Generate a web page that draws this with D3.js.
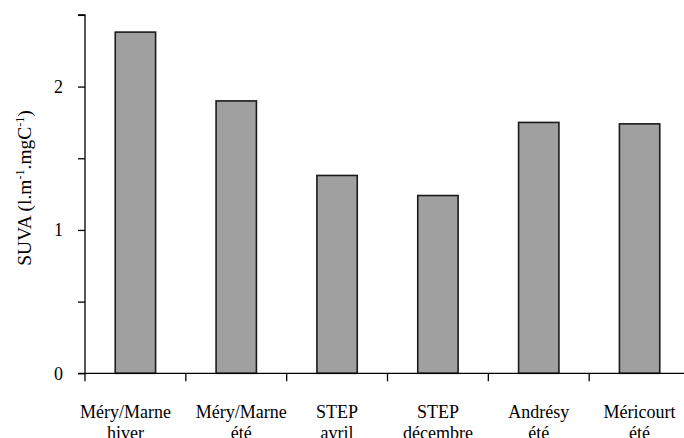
<!DOCTYPE html>
<html>
<head>
<meta charset="utf-8">
<script src="https://cdn.jsdelivr.net/npm/d3@7"></script>
<style>
  html, body { margin: 0; padding: 0; background: #fff; }
  svg { display: block; font-family: "Liberation Serif", "Times New Roman", serif; }
</style>
</head>
<body>
<svg id="chart" width="684" height="438"></svg>
<script>
const categories = ["Méry/Marne|hiver", "Méry/Marne|été", "STEP|avril", "STEP|décembre", "Andrésy|été", "Méricourt|été"];
const suva = [2.38, 1.90, 1.38, 1.24, 1.75, 1.74];
const yTicks = [0, 0.5, 1, 1.5, 2, 2.5];
const yTickLabels = ["0", "", "1", "", "2", ""];

(function() {
const svg = d3.select("#chart");
const mLeft = 85, mRight = 690, mTop = 14.9, mBottom = 373.3;

const x = d3.scaleBand().domain(categories).range([mLeft, mRight]).paddingInner(0.6).paddingOuter(0.3);
const y = d3.scaleLinear().domain([0, 2.5]).range([mBottom, mTop]);
const step = x.step();

// bars
svg.append("g").selectAll("rect").data(categories).join("rect")
  .attr("x", d => x(d))
  .attr("y", (d, i) => y(suva[i]))
  .attr("width", x.bandwidth())
  .attr("height", (d, i) => y(0) - y(suva[i]))
  .attr("fill", "#a0a0a0")
  .attr("stroke", "#1a1a1a")
  .attr("stroke-width", 1.6);

// y axis
const yAxis = d3.axisLeft(y).tickValues(yTicks).tickSize(7).tickPadding(15)
  .tickFormat((d, i) => yTickLabels[i]);
const gy = svg.append("g").attr("transform", `translate(${mLeft},0)`).call(yAxis);
gy.select(".domain").attr("stroke", "#000").attr("stroke-width", 1.3).attr("d", `M-7,${mTop}H0V${mBottom}`);
gy.selectAll(".tick line").attr("stroke", "#000").attr("stroke-width", 1.3);
gy.selectAll(".tick text").attr("font-size", 18).attr("fill", "#000")
  .attr("font-family", "Liberation Serif");

// x axis line
const boundaries = d3.range(categories.length + 1).map(i => mLeft + i * step);
svg.append("line").attr("x1", mLeft - 7).attr("x2", 684).attr("y1", mBottom).attr("y2", mBottom)
  .attr("stroke", "#000").attr("stroke-width", 1.3);
svg.append("g").selectAll("line").data(boundaries).join("line")
  .attr("x1", d => d).attr("x2", d => d).attr("y1", mBottom).attr("y2", mBottom + 8)
  .attr("stroke", "#000").attr("stroke-width", 1.3);

// x labels
const labelDx = [-10, 5, 0, 0, 0, 0];
const lab = svg.append("g").selectAll("text").data(categories).join("text")
  .attr("text-anchor", "middle")
  .attr("font-size", 18)
  .attr("fill", "#000")
  .attr("transform", (d, i) => `translate(${x(d) + x.bandwidth() / 2 + labelDx[i]},418)`);
lab.each(function(d) {
  const parts = d.split("|");
  const t = d3.select(this);
  parts.forEach((p, k) => {
    t.append("tspan").attr("x", 0).attr("y", k * 21).text(p);
  });
});

// y label
const yl = svg.append("text")
  .attr("transform", "translate(31,188) rotate(-90)")
  .attr("text-anchor", "middle")
  .attr("font-size", 19.5)
  .attr("fill", "#000");
yl.append("tspan").text("SUVA (l.m");
yl.append("tspan").attr("font-size", 12).attr("dy", -7).text("-1");
yl.append("tspan").attr("dy", 7).text(".mgC");
yl.append("tspan").attr("font-size", 12).attr("dy", -7).text("-1");
yl.append("tspan").attr("dy", 7).text(")");
})();
</script>
</body>
</html>
